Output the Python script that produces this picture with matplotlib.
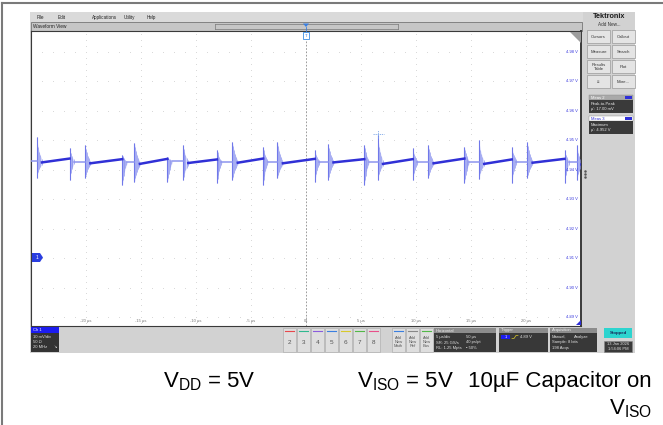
import matplotlib
matplotlib.use("Agg")

import numpy as np
import matplotlib.pyplot as plt
from matplotlib.patches import Rectangle, Polygon

W, H = 663, 425

# scope settings: 5 us/div horizontal, 10 mV/div vertical
t_grid = [-20, -15, -10, -5, 0, 5, 10, 15, 20]
t_labels = ["-20 µs", "-15 µs", "-10 µs", "-5 µs", "0s", "5 µs", "10 µs", "15 µs", "20 µs"]
v_grid = [4.98, 4.97, 4.96, 4.95, 4.94, 4.93, 4.92, 4.91, 4.90, 4.89]

# switching spikes (large edge and the smaller edge before it)
big_t = [-24.5, -20.1, -15.6, -11.2, -6.7, -2.6, 2.0, 6.5, 11.1, 15.7, 20.1, 24.6]
big_hi = [4.9511, 4.9484, 4.9491, 4.9484, 4.9494, 4.9494, 4.9488, 4.9518, 4.9484, 4.9501, 4.9494, 4.9484]
big_lo = [4.9372, 4.9372, 4.9358, 4.9365, 4.9365, 4.9372, 4.9365, 4.9365, 4.9372, 4.9369, 4.9372, 4.9365]

small_t = [-21.5, -16.7, -12.6, -8.1, -3.9, 0.8, 5.3, 9.7, 14.4, 18.7, 23.5]
small_hi = [4.9474, 4.9450, 4.9443, 4.9467, 4.9477, 4.9467, 4.9484, 4.9474, 4.9477, 4.9477, 4.9467]
small_lo = [4.9365, 4.9348, 4.9358, 4.9355, 4.9348, 4.9358, 4.9348, 4.9365, 4.9355, 4.9355, 4.9355]

# output level between edges
band_start_v = [4.9425, 4.9422, 4.9420, 4.9423, 4.9424, 4.9422, 4.9425, 4.9420, 4.9422, 4.9420, 4.9424, 4.9418]
band_end_v = [4.9438, 4.9436, 4.9437, 4.9435, 4.9438, 4.9437, 4.9436, 4.9436, 4.9438, 4.9435, 4.9437]
gap_v = [4.9428, 4.9427, 4.9429, 4.9426, 4.9428, 4.9427, 4.9428, 4.9426, 4.9427, 4.9428, 4.9427]
start_v = 4.9430

cursor_t, cursor_v = 6.55, 4.9521

# ringing envelope shape after each edge
RING_T = np.array([0, 0.07, 0.15, 0.24, 0.34, 0.46, 0.6])
RING_F = np.array([1.0, 0.8, 0.6, 0.42, 0.28, 0.15, 0.0])

TRACE = "#3030d6"
TRACE_LIGHT = "#8d95ee"
RING = "#d6d9fa"

plt.rcParams['font.family'] = ['Liberation Sans', 'DejaVu Sans']
plt.rcParams['mathtext.fontset'] = 'custom'
plt.rcParams['mathtext.rm'] = 'Liberation Sans'

fig = plt.figure(figsize=(W / 100, H / 100), dpi=100)


def px_axes(x0, y0, x1, y1, z):
    return fig.add_axes([x0 / W, 1 - y1 / H, (x1 - x0) / W, (y1 - y0) / H], zorder=z)


bg = fig.add_axes([0, 0, 1, 1], zorder=0)
bg.set_xlim(0, W)
bg.set_ylim(H, 0)
bg.axis('off')

top = fig.add_axes([0, 0, 1, 1], zorder=3)
top.set_xlim(0, W)
top.set_ylim(H, 0)
top.axis('off')
top.patch.set_alpha(0)


def rect(ax, x, y, w, h, fc, ec='none', lw=0.5):
    ax.add_patch(Rectangle((x, y), w, h, facecolor=fc, edgecolor=ec, linewidth=lw))


def txt(ax, x, y, s, size=3.3, color='#222222', **kw):
    ax.text(x, y, s, fontsize=size, color=color, va='center', **kw)


# page frame
bg.plot([2, W], [3, 3], color='#7a7a7a', lw=1.5)
bg.plot([2, 2], [3, H], color='#7a7a7a', lw=1.5)

# scope window
rect(bg, 30, 12, 605, 341, '#d2d2d2')
rect(bg, 30, 12, 553, 10, '#dadada')
for x, s in [(37, "File"), (58, "Edit"), (92, "Applications"), (124, "Utility"), (147, "Help")]:
    txt(bg, x, 17, s, 3.3)
rect(bg, 31, 22, 551, 9, '#c6c6c6', ec='#666666', lw=0.5)
txt(bg, 33, 26.5, "Waveform View", 3.4)
bg.plot([215, 398], [24, 24], color='#777777', lw=0.5)
bg.plot([215, 398], [28.5, 28.5], color='#777777', lw=0.5)
bg.plot([215, 215], [24, 28.5], color='#777777', lw=0.5)
bg.plot([398, 398], [24, 28.5], color='#777777', lw=0.5)

# right side panel
txt(bg, 609, 16.5, "Tektronix", 5.2, '#1a1a1a', ha='center', fontweight='bold')
txt(bg, 609, 24.5, "Add New...", 3.3, '#333333', ha='center')
buttons = [("Cursors", "Callout"), ("Measure", "Search"), ("Results\nTable", "Plot"), ("≡", "More...")]
for i, (a, b) in enumerate(buttons):
    y = 30 + 15 * i
    for x, s in [(587, a), (612, b)]:
        rect(bg, x, y, 23, 13, '#e4e4e4', ec='#9a9a9a', lw=0.5)
        bg.text(x + 11.5, y + 6.5, s, fontsize=3.1, color='#333333', ha='center', va='center', linespacing=1.0)

meas = [(95, "Meas 2", "Peak-to-Peak", "µ': 17.00 mV", '#a9a9a9', 'white'),
        (116, "Meas 3", "Maximum", "µ': 4.952 V", 'white', '#2f2fd8')]
for y, name, kind, val, hc, tc in meas:
    rect(bg, 589, y, 44, 5, hc, ec='#888888', lw=0.3)
    txt(bg, 591, y + 2.5, name, 3.0, tc)
    rect(bg, 625, y + 1, 7, 3, '#2f2fd8')
    rect(bg, 589, y + 5, 44, 13, '#3a3a3a')
    txt(bg, 591, y + 8.5, kind, 3.0, '#e8e8e8')
    txt(bg, 591, y + 14, val, 3.0, '#e8e8e8')
for y in [171, 174, 177]:
    bg.plot(585, y, marker='o', ms=0.8, color='#555555')

# bottom bar
rect(bg, 31, 327, 28, 25, '#333333')
rect(bg, 31, 327, 28, 6, '#1c1cf0')
txt(bg, 33, 330, "Ch 1", 3.0, 'white')
txt(bg, 33, 336.5, "10 mV/div", 3.0, '#e0e0e0')
txt(bg, 33, 342, "50 Ω", 3.0, '#e0e0e0')
txt(bg, 33, 347.5, "20 MHz", 3.0, '#e0e0e0')
txt(bg, 53, 347.5, "↘", 3.0, '#e0e0e0')

ch_colors = ['#e8474c', '#2fb88f', '#8a5cdd', '#3a7fe0', '#d8c92b', '#52b848', '#e8508a']
for k, c in enumerate(ch_colors):
    x0 = 283 + 14 * k
    rect(bg, x0, 328, 13, 24, '#dedede', ec='#b0b0b0', lw=0.5)
    bg.plot([x0 + 2, x0 + 11], [330.5, 330.5], color=c, lw=0.8)
    bg.text(x0 + 6.5, 342, str(k + 2), fontsize=4.6, color='#555555', ha='center', va='center')
for k, (c, s) in enumerate([('#3a7fe0', "Add\nNew\nMath"), ('#888888', "Add\nNew\nRef"), ('#52b848', "Add\nNew\nBus")]):
    x0 = 392 + 14 * k
    rect(bg, x0, 328, 13, 24, '#dedede', ec='#b0b0b0', lw=0.5)
    bg.plot([x0 + 2, x0 + 11], [330.5, 330.5], color=c, lw=0.8)
    bg.text(x0 + 6.5, 342, s, fontsize=2.9, color='#555555', ha='center', va='center', linespacing=1.0)

panels = [
    (434, 62, "Horizontal", [("5 µs/div", "50 µs"), ("SR: 25 GS/s", "40 ps/pt"), ("RL: 1.25 Mpts", "▪ 50%")]),
    (499, 49, "Trigger", [("", ""), ("", ""), ("", "")]),
    (550, 47, "Acquisition", [("Manual,", "Analyze"), ("Sample: 8 bits", ""), ("198 Acqs", "")]),
]
for x0, w, head, rows in panels:
    rect(bg, x0, 328, w, 5, '#8c8c8c')
    txt(bg, x0 + 2, 330.5, head, 3.0, '#f0f0f0')
    rect(bg, x0, 333, w, 19, '#383838')
    for r, (a, b) in enumerate(rows):
        txt(bg, x0 + 2, 337 + 5.5 * r, a, 3.0, '#e0e0e0')
        txt(bg, x0 + w * 0.52, 337 + 5.5 * r, b, 3.0, '#e0e0e0')
rect(bg, 501, 335, 9, 4, '#1c1cf0')
txt(bg, 505.5, 337, "1", 2.8, 'white', ha='center')
# rising-edge trigger symbol
bg.plot([512, 514, 516, 518], [338.5, 338.5, 335.5, 335.5], color='#d8c92b', lw=0.5)
txt(bg, 520, 337, "4.89 V", 3.0, '#e0e0e0')

rect(bg, 604, 328, 28, 10, '#2dd4cf')
txt(bg, 618, 333, "Stopped", 3.2, '#1a2a5a', ha='center', fontweight='bold')
rect(bg, 604, 341, 28, 11, '#3a3a3a', ec='#888888', lw=0.4)
txt(bg, 618, 344, "13 Jan 2026", 2.9, '#e0e0e0', ha='center')
txt(bg, 618, 349, "1:54:06 PM", 2.9, '#e0e0e0', ha='center')

# waveform area
ax = px_axes(31, 31, 581, 326, 1)
ax.set_facecolor('white')
ax.set_xlim(-25, 25)
ax.set_ylim(4.98 - 274 / 2944, 4.98 + 21 / 2944)
ax.set_xticks([])
ax.set_yticks([])
for side, sp in ax.spines.items():
    sp.set_color('#3a3a3a')
    sp.set_linewidth(0.8 if side != 'right' else 1.4)

sub_t = np.arange(-25, 25.01, 1.0)
for v in v_grid:
    ax.plot(sub_t, [v] * len(sub_t), ls='none', marker='s', ms=0.7, mew=0, color='#d9d9d9', zorder=1)
sub_v = np.arange(4.886, 4.988, 0.002)
for t in t_grid:
    if t == 0:
        continue
    ax.plot([t] * len(sub_v), sub_v, ls='none', marker='s', ms=0.7, mew=0, color='#d9d9d9', zorder=1)
ax.axvline(0, color='#8a8a8a', lw=0.6, ls=(0, (2, 2)), zorder=1)

for t, s in zip(t_grid, t_labels):
    ax.text(t, 4.8886, s, fontsize=3.0, color='#777777', ha='center', va='center')
for v in v_grid:
    ax.text(24.7, v, f"{v:.2f} V", fontsize=3.0, color='#3a3ae0', ha='right', va='center', zorder=6)


def ring(t0, hi, lo, base, stretch):
    tt = t0 + RING_T * stretch
    upper = base + (hi - base) * RING_F
    lower = base - (base - lo) * RING_F
    ax.fill_between(tt, lower, upper, color=RING, lw=0, zorder=2)
    ax.vlines(tt, lower, upper, color=TRACE_LIGHT, lw=0.45, zorder=3)
    ax.vlines(t0, lo, hi, color='#7078ea', lw=0.8, zorder=3)


# first segment before the first edge
ax.plot([-25, big_t[0]], [start_v, start_v], color=TRACE_LIGHT, lw=1.1, zorder=4)
for i in range(len(big_t)):
    ring(big_t[i], big_hi[i], big_lo[i], band_start_v[i], 1.0)
    if i < len(small_t):
        ax.plot([big_t[i] + 0.5, small_t[i]], [band_start_v[i], band_end_v[i]], color=TRACE, lw=1.8, zorder=4)
        ring(small_t[i], small_hi[i], small_lo[i], gap_v[i], 0.8)
        ax.plot([small_t[i] + 0.4, big_t[i + 1]], [gap_v[i], gap_v[i]], color=TRACE_LIGHT, lw=1.1, zorder=4)
    else:
        ax.plot([big_t[i] + 0.5, 25], [band_start_v[i], band_start_v[i]], color=TRACE, lw=1.8, zorder=4)

# measurement cursor
ax.plot([cursor_t - 0.5, cursor_t + 0.5], [cursor_v, cursor_v], color='#7fa8e8', lw=0.6, ls=(0, (1.5, 1)), zorder=5)
ax.plot([cursor_t, cursor_t], [cursor_v - 0.0014, cursor_v + 0.0014], color='#7fa8e8', lw=0.6, ls=(0, (1.5, 1)), zorder=5)

# markers on top of the waveform area
top.add_patch(Polygon([(570, 32), (581, 32), (581, 43)], closed=True, facecolor='#9d9d9d', edgecolor='none'))
top.add_patch(Polygon([(576, 325), (581, 320), (581, 325)], closed=True, facecolor='#2f2fd8', edgecolor='none'))
top.add_patch(Polygon([(32, 253), (40, 253), (43, 257.5), (40, 262), (32, 262)], closed=True, facecolor='#2a3ee0', edgecolor='none'))
txt(top, 36.5, 257.5, "1", 3.6, 'white', ha='center')
top.add_patch(Polygon([(303, 23.5), (309, 23.5), (306, 27)], closed=True, facecolor='#3a7fe0', edgecolor='none'))
top.plot([306, 306], [27, 31], color='#3a7fe0', lw=0.6)
rect(top, 303, 32, 6, 7, 'white', ec='#3a8ee6', lw=0.6)
txt(top, 306, 35.5, "T", 3.2, '#3a7fe0', ha='center')

# caption
top.text(163, 387, r"$\mathrm{V}_{\mathrm{DD}}$ = 5V", fontsize=16, color='black', va='baseline')
top.text(357, 387, r"$\mathrm{V}_{\mathrm{ISO}}$ = 5V", fontsize=16, color='black', va='baseline')
top.text(652, 387, "10µF Capacitor on", fontsize=16, color='black', va='baseline', ha='right')
top.text(652, 414, r"$\mathrm{V}_{\mathrm{ISO}}$", fontsize=16, color='black', va='baseline', ha='right')

fig.savefig("out.png", dpi=100)
